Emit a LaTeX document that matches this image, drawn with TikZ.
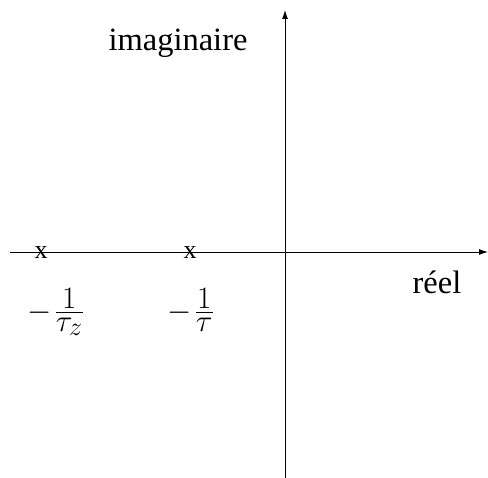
\documentclass[tikz,border=0pt]{standalone}
\usepackage{amsmath}
\usepackage{fontspec}
\setmainfont{Liberation Serif}
\usetikzlibrary{arrows.meta}
\newcommand{\polefrac}[1]{\scalebox{1.25}{$\displaystyle -\mkern1.5mu\genfrac{}{}{}{1}{\displaystyle 1}{\displaystyle #1}$}}
\begin{document}
\begin{tikzpicture}[x=1pt,y=-1pt,
  axis/.style={line width=0.9pt,-{Latex[length=9pt,width=6pt]}},
  lbl/.style={font=\fontsize{32.5}{38}\selectfont,inner sep=0pt},
  mth/.style={font=\fontsize{24.88}{30}\selectfont,inner sep=0pt,anchor=base west},
  mk/.style={font=\fontsize{26}{30}\selectfont,inner sep=0pt,anchor=base}]
\useasboundingbox (0,0) rectangle (488,478);
\coordinate (hl) at (10,252);
\coordinate (hr) at (488,252);
\coordinate (vb) at (285,478);
\coordinate (vt) at (285,10);
\draw[axis] (hl) -- (hr);
\draw[axis] (vb) -- (vt);
\node[mk] (x1) at (41,259) {x};
\node[mk] (x2) at (190,259) {x};
\node[lbl,anchor=base] (im) at (178,51) {imaginaire};
\node[lbl,anchor=base] (re) at (437,294) {réel};
\node[mth] (p1) at (27.5,320.5) {\polefrac{\tau_z}};
\node[mth] (p2) at (167.5,320.5) {\polefrac{\tau}};
\end{tikzpicture}
\end{document}
